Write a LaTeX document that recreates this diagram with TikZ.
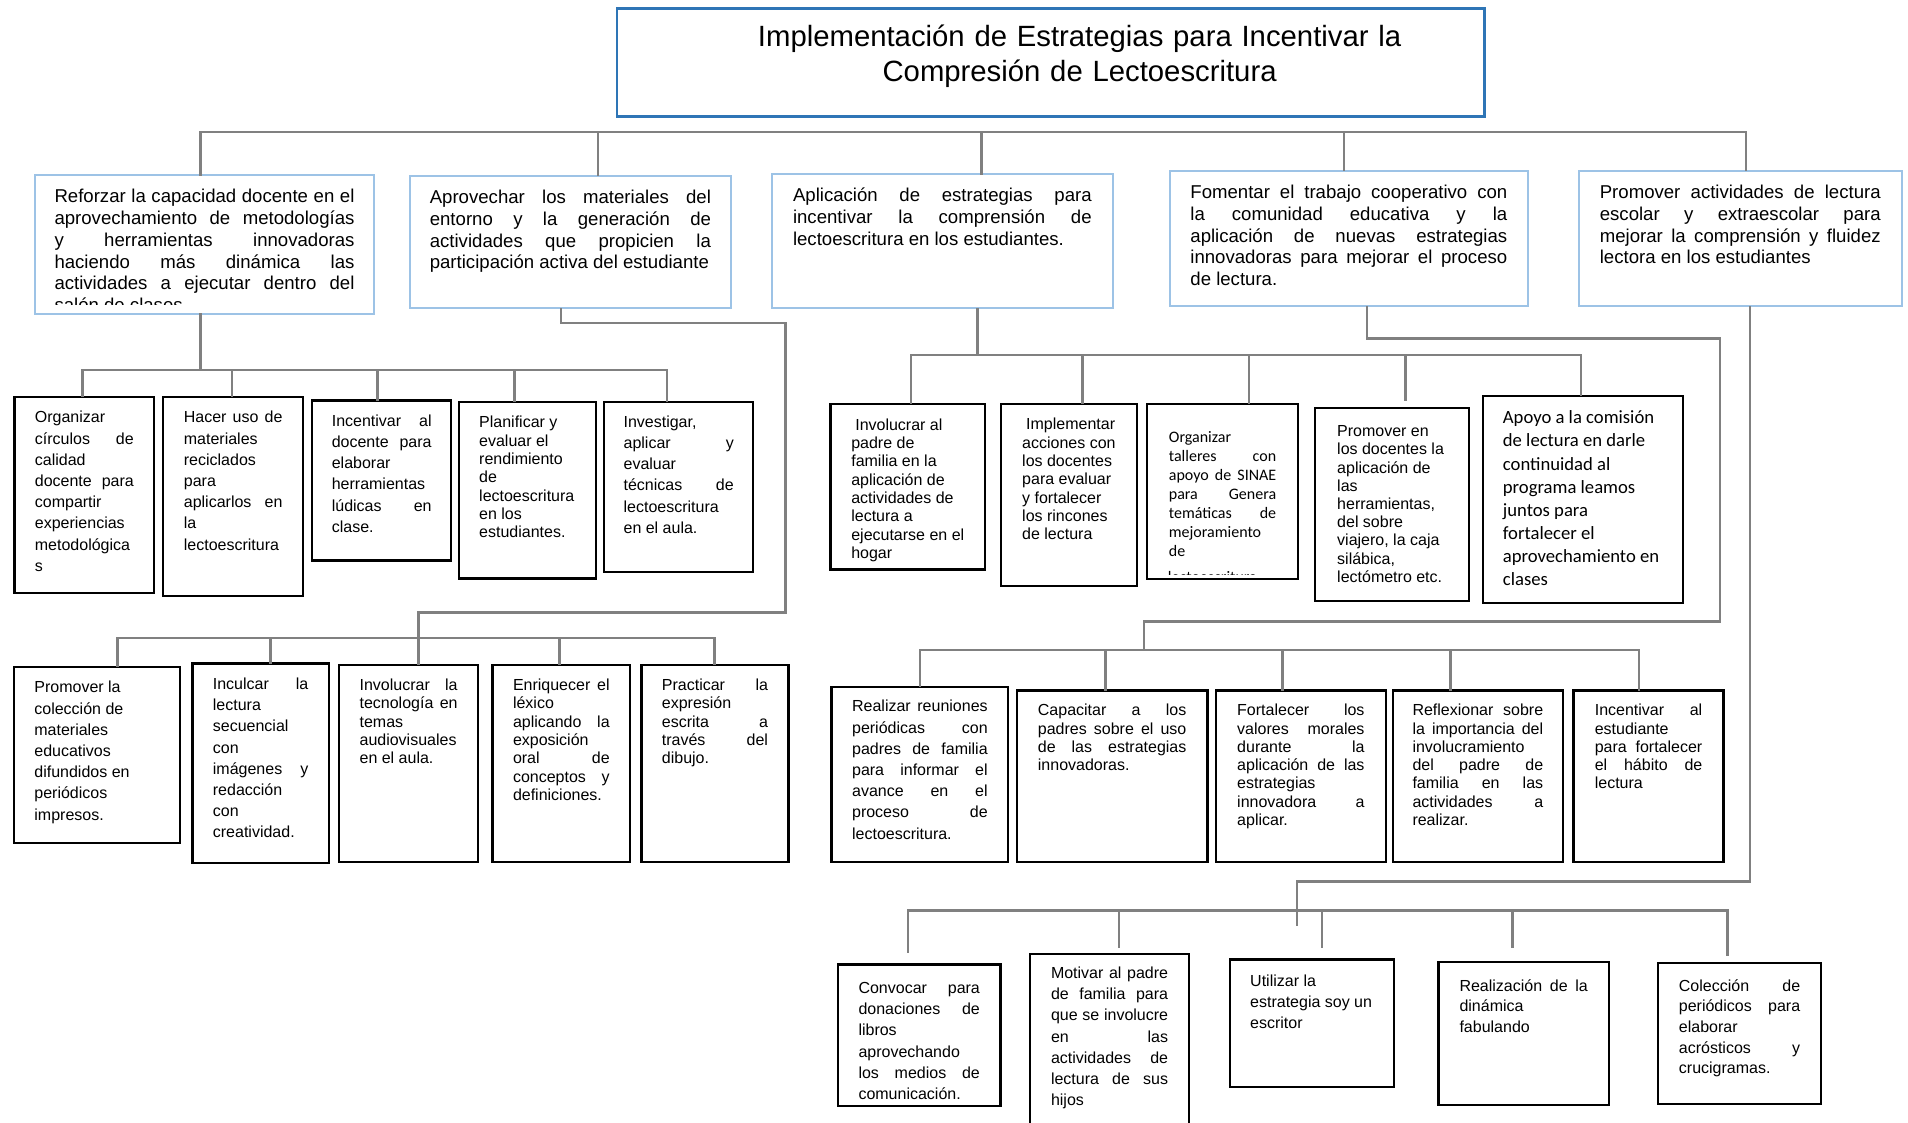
\documentclass[tikz,border=0pt]{standalone}
\usepackage{fontspec}
\setmainfont{Liberation Sans}
\newfontfamily\calibri{Carlito}
\usepackage{xcolor}
\usepackage{tikz}
\definecolor{titleblue}{HTML}{2E75B6}
\definecolor{skyline}{HTML}{9DC3E6}
\definecolor{linegray}{HTML}{808080}
\hyphenpenalty=10000 \exhyphenpenalty=10000
\tolerance=9999 \hbadness=10000 \hfuzz=4pt
\tikzset{
  cell/.code n args={4}{%
    \pgfmathsetmacro\cellw{#1-2*#3}%
    \pgfmathsetmacro\celld{#2-#4}%
    \edef\cellopts{anchor=north west, inner ysep=0pt, inner xsep=#3pt,
      text width=\cellw pt, text height=#4pt, text depth=\celld pt}%
    \expandafter\tikzset\expandafter{\cellopts}},
  head/.style={draw=titleblue, line width=2.4pt, align=center, font=\fontsize{29.3}{35}\selectfont},
  aim/.style={draw=skyline, line width=2pt, align=justify, font=\fontsize{18.6}{21.7}\selectfont},
  act/.style={draw=black, line width=2.4pt, align=justify, font=\fontsize{16}{21.2}\selectfont},
  tight/.style={font=\fontsize{16}{18.3}\selectfont},
  mid/.style={font=\fontsize{16}{20.6}\selectfont},
  link/.style={draw=linegray, line width=2.6pt, line cap=rect},
}

\begin{document}
\begin{tikzpicture}[x=1pt,y=-1pt]
    \useasboundingbox (0,0) rectangle (1908,1123);
    %
    \node[head, cell={867.6}{108}{20}{37.7}] (title) at (615.6,7.3)
      {\hspace*{58pt}Implementación de Estrategias para Incentivar la\\ \hspace*{58pt}Compresión de Lectoescritura};
    %
    \node[aim, cell={339}{138.4}{19.5}{27.7}] (a1) at (34,174.3)
      {Reforzar la capacidad docente en el\linebreak aprovechamiento de metodologías\linebreak y herramientas innovadoras\linebreak haciendo más dinámica las\linebreak actividades a ejecutar dentro del\linebreak};
    \node[aim, cell={321.2}{132.3}{20}{27.7}] (a2) at (408.8,175)
      {Aprovechar los materiales del\linebreak entorno y la generación de\linebreak actividades que propicien la\linebreak participación activa del estudiante};
    \node[aim, cell={341.3}{134}{21.3}{27.7}] (a3) at (770.7,173.3)
      {Aplicación de estrategias para\linebreak incentivar la comprensión de\linebreak lectoescritura en los estudiantes.};
    \node[aim, cell={358.3}{135}{20.7}{27.7}] (a4) at (1168.7,170)
      {Fomentar el trabajo cooperativo con\linebreak la comunidad educativa y la\linebreak aplicación de nuevas estrategias\linebreak innovadoras para mejorar el proceso\linebreak de lectura.};
    \node[aim, cell={323.5}{135}{21.3}{27.7}] (a5) at (1577.5,170)
      {Promover actividades de lectura\linebreak escolar y extraescolar para\linebreak mejorar la comprensión y fluidez\linebreak lectora en los estudiantes};
    \begin{scope}
      \clip (a1.north west) rectangle ([yshift=10.5pt]a1.south east);
      \node[aim, draw=none, anchor=base west, inner sep=0pt] (a1x) at (53.5,311.5) {salón de clases};
    \end{scope}
    %
    \node[act, cell={139.7}{195.7}{20.4}{25.7}] (b1) at (13.3,396)
      {Organizar\\ círculos de\linebreak calidad\\ docente para\linebreak compartir\\ experiencias\\ metodológica\\ s};
    \node[act, cell={140}{199}{20.7}{25.7}] (b2) at (162,396)
      {Hacer uso de\linebreak materiales\\ reciclados\\ para\\ aplicarlos en\linebreak la\\ lectoescritura};
    \node[act, cell={139}{160}{19.6}{25.7}] (b3) at (311,399.3)
      {Incentivar al\linebreak docente para\linebreak elaborar\\ herramientas\\ lúdicas en\linebreak clase.};
    \node[act, tight, align=flush left, cell={137.3}{176.3}{20.3}{25.7}] (b4) at (457.7,401)
      {Planificar y\\ evaluar el\\ rendimiento\\ de\\ lectoescritura\\ en los\\ estudiantes.};
    \node[act, cell={149}{170}{19.4}{25.3}] (b5) at (603,400.7)
      {Investigar,\\ aplicar y\linebreak evaluar\\ técnicas de\linebreak lectoescritura\\ en el aula.};
    %
    \node[act, align=flush left, cell={165.8}{175.7}{20.4}{25.7}] (c1) at (12.8,666)
      {Promover la\\ colección de\\ materiales\\ educativos\\ difundidos en\\ periódicos\\ impresos.};
    \node[act, cell={136.3}{199.4}{20.4}{26}] (c2) at (191.3,662.3)
      {Inculcar la\linebreak lectura\\ secuencial\\ con\\ imágenes y\linebreak redacción\\ con\\ creatividad.};
    \node[act, tight, cell={139.2}{197}{20.6}{25.3}] (c3) at (337.8,664)
      {Involucrar la\linebreak tecnología en\linebreak temas\\ audiovisuales\\ en el aula.};
    \node[act, tight, cell={137.7}{197}{20.5}{25.3}] (c4) at (491.3,664)
      {Enriquecer el\linebreak léxico\\ aplicando la\linebreak exposición\\ oral de\linebreak conceptos y\linebreak definiciones.};
    \node[act, tight, cell={146.9}{197}{20.4}{25.3}] (c5) at (640.3,664)
      {Practicar la\linebreak expresión\\ escrita a\linebreak través del\linebreak dibujo.};
    %
    \node[act, tight, align=flush left, cell={154.7}{165.6}{20.8}{26.3}] (d1) at (829.3,402.7)
      {\hspace*{4pt}Involucrar al\\ padre de\\ familia en la\\ aplicación de\\ actividades de\\ lectura a\\ ejecutarse en el\\ hogar};
    \node[act, tight, align=flush left, cell={136}{182.3}{21}{26}] (d2) at (1000,402.7)
      {\hspace*{4pt}Implementar\\ acciones con\\ los docentes\\ para evaluar\\ y fortalecer\\ los rincones\\ de lectura};
    \node[act, font=\calibri\fontsize{16}{18.9}\selectfont, cell={150.7}{175}{21.7}{38.8}] (d3) at (1146,402.7)
      {Organizar\\ talleres con\linebreak apoyo de SINAE\linebreak para Genera\linebreak temáticas de\linebreak mejoramiento\\ de};
    \node[act, font=\fontsize{16}{18.2}\selectfont, align=flush left, cell={153.7}{193.3}{22}{28.8}] (d4) at (1314,406.7)
      {Promover en\\ los docentes la\\ aplicación de\\ las\\ herramientas,\\ del sobre\\ viajero, la caja\\ silábica,\\ lectómetro etc.};
    \node[act, font=\calibri\fontsize{18.67}{23.1}\selectfont, align=flush left, cell={200}{206.7}{20}{27.6}] (d5) at (1481.7,395)
      {Apoyo a la comisión\\ de lectura en darle\\ continuidad al\\ programa leamos\\ juntos para\\ fortalecer el\\ aprovechamiento en\\ clases};
    \begin{scope}
      \clip (d3.north west) rectangle ([yshift=5.5pt]d3.south east);
      \node[font=\calibri\fontsize{16}{18.9}\selectfont, anchor=base west, inner sep=0pt] (d3x) at (1167.7,582.5) {lectoescritura};
    \end{scope}
    %
    \node[act, cell={176.6}{174.7}{20.5}{24.7}] (e1) at (830.4,686)
      {Realizar reuniones\linebreak periódicas con\linebreak padres de familia\linebreak para informar el\linebreak avance en el\linebreak proceso de\linebreak lectoescritura.};
    \node[act, tight, cell={190.9}{171.4}{21.2}{25.2}] (e2) at (1015.5,689.3)
      {Capacitar a los\linebreak padres sobre el uso\linebreak de las estrategias\linebreak innovadoras.};
    \node[act, tight, cell={169.7}{171.4}{21.2}{25.2}] (e3) at (1214.8,689.3)
      {Fortalecer los\linebreak valores morales\linebreak durante la\linebreak aplicación de las\linebreak estrategias\\ innovadora a\linebreak aplicar.};
    \node[act, tight, cell={170.3}{171.4}{19.8}{25.2}] (e4) at (1391.5,689.3)
      {Reflexionar sobre\linebreak la importancia del\linebreak involucramiento\\ del padre de\linebreak familia en las\linebreak actividades a\linebreak realizar.};
    \node[act, tight, cell={149.9}{171.4}{21.2}{25.2}] (e5) at (1572.4,689.3)
      {Incentivar al\linebreak estudiante\\ para fortalecer\linebreak el hábito de\linebreak lectura};
    %
    \node[act, cell={162.6}{141.7}{20.6}{29}] (f1) at (836.7,963.3)
      {Convocar para\linebreak donaciones de\linebreak libros\\ aprovechando\\ los medios de\linebreak comunicación.};
    \node[act, cell={158.7}{182.3}{20.8}{24.6}] (f2) at (1029,952.7)
      {Motivar al padre\linebreak de familia para\linebreak que se involucre\linebreak en las\linebreak actividades de\linebreak lectura de sus\linebreak hijos};
    \node[act, mid, align=flush left, cell={163.7}{127.7}{20}{27.4}] (f3) at (1229,958.3)
      {Utilizar la\\ estrategia soy un\\ escritor};
    \node[act, mid, cell={170.4}{143.3}{21}{29.3}] (f4) at (1437.3,960.7)
      {Realización de la\linebreak dinámica\\ fabulando};
    \node[act, mid, cell={163.3}{141.3}{21}{28.3}] (f5) at (1656.7,961.7)
      {Colección de\linebreak periódicos para\linebreak elaborar\\ acrósticos y\linebreak crucigramas.};
    %
    \foreach \n/\x/\y/\g in {a1/200.7/132/0, a2/598/132/0, a3/981.4/132/0, a4/1344/132/0, a5/1746/132/0,
        b1/82.7/370/0, b2/232/370/0, b3/377.6/370/0, b4/514.3/370/0, b5/666.8/370/0,
        c1/117.3/638/0, c2/270.4/638/0, c3/418.4/638/0, c4/559.7/638/0, c5/714.3/638/0,
        d1/911/355/0, d2/1082.7/355/0, d3/1248.8/355/0, d4/1405.6/355/6.7, d5/1581/355/0,
        e1/920/650/0, e2/1105.3/650/0, e3/1282.7/650/0, e4/1450.2/650/0, e5/1638.8/650/0,
        f1/908/910.7/11.6, f2/1119/910.7/6, f3/1322/910.7/11.6, f4/1512.5/910.7/14, f5/1727.5/910.7/6.7}{
      \coordinate (j\n) at (\x,\y);
      \draw[link, shorten >=\g] (j\n) -- (\n.north -| j\n);
    }
    \draw[link] (ja1) -- (ja5);
    \draw[link] (jb1) -- (jb5);
    \draw[link] (jc1) -- (jc5);
    \draw[link] (jd1) -- (jd5);
    \draw[link] (je1) -- (je5);
    \draw[link] (jf1) -- (jf5);
    %
    \coordinate (ab) at (200.7,370);
    \coordinate (ac1) at (560.8,323);
    \coordinate (ac2) at (785.7,612.5);
    \coordinate (ad) at (977.5,355);
    \coordinate (ae1) at (1367,338.3);
    \coordinate (ae2) at (1720,621.7);
    \coordinate (ae3) at (1144,650);
    \coordinate (af1) at (1750,881.7);
    \coordinate (af2) at (1297,925);
    \draw[link] (a1.south -| ab) -- (ab);
    \draw[link] (a2.south -| ac1) -- (ac1) -| (ac2) -| (jc3);
    \draw[link] (a3.south -| ad) -- (ad);
    \draw[link] (a4.south -| ae1) -- (ae1) -| (ae2) -| (ae3);
    \draw[link] (a5.south -| af1) -- (af1) -| (af2);
    %
\end{tikzpicture}
\end{document}
